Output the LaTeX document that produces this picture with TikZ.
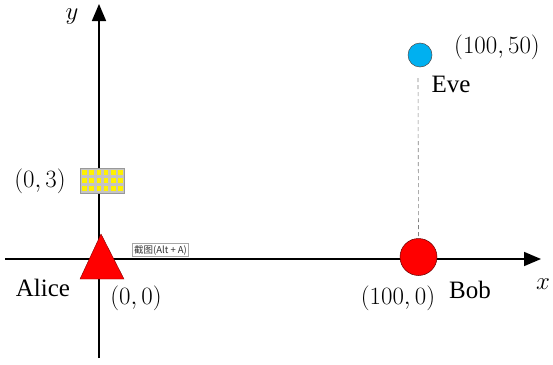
\documentclass[tikz,border=0pt]{standalone}
\usepackage{fontspec}
\newfontfamily\cjkfont{Noto Sans CJK SC}
\newfontfamily\namefont{Liberation Serif}
\usetikzlibrary{arrows.meta}
\definecolor{evecol}{HTML}{00B0F0}
\definecolor{gridgray}{HTML}{C4C4C4}
\tikzset{
  axis/.style={line width=1.6pt,-{Triangle[length=17pt,width=14pt]}},
  lbl/.style={inner sep=0pt,font=\fontsize{23}{28}\selectfont},
  namelbl/.style={inner sep=0pt,font=\namefont\fontsize{25}{30}\selectfont},
  party/.style={circle,draw=red!40!black,line width=0.5pt,inner sep=0pt},
  dot/.style={fill=yellow,inner sep=0pt,minimum size=4.5pt},
  tip/.style={draw=gray!70,fill=white,line width=0.5pt,inner sep=1.5pt,font=\cjkfont\fontsize{9.5}{10}\selectfont,text=gray!40!black}
}
\begin{document}
\begin{tikzpicture}[x=1pt,y=-1pt]
\useasboundingbox (0,0) rectangle (553,364);
% axes
\coordinate (xs) at (5,259);
\coordinate (xe) at (541,259);
\coordinate (ys) at (99,358);
\coordinate (ye) at (99,4);
\draw[axis] (xs) -- (xe);
\draw[axis] (ys) -- (ye);
\node[lbl] (xl) at (543,284) {$x$};
\node[lbl] (yl) at (72,17) {$y$};
% parties
\coordinate (dtop) at (418,78);
\node[party,fill=red,minimum size=37pt] (bob) at (418.5,257) {};
\node[party,fill=evecol,draw=black!70,minimum size=24pt] (eve) at (420,55) {};
\draw[gray,dashed,dash pattern=on 4pt off 3pt,line width=0.6pt] (dtop) -- (bob.north);
% Alice triangle
\coordinate (ta) at (101,234);
\coordinate (tb) at (80,279);
\coordinate (tc) at (124,279);
\draw[fill=red,draw=red!50!black,line width=0.4pt] (ta) -- (tb) -- (tc) -- cycle;
% grid
\node[draw=gray!80,fill=gridgray,minimum width=44pt,minimum height=25pt,inner sep=0pt] (grid) at (102,180.5) {};
\foreach \i in {0,...,5}{
  \foreach \j in {0,1,2}{
    \node[dot] (d\i\j) at ({84.5+7.2*\i},{172.7+8*\j}) {};
  }
}
% tooltip
\node[tip] (tt) at (160.5,250) {截图(Alt + A)};
% labels
\node[lbl] (l003) at (40,181) {$(0,3)$};
\node[namelbl] (alice) at (43,288) {Alice};
\node[lbl] (l000) at (136,298) {$(0,0)$};
\node[lbl] (l100) at (398,298) {$(100,0)$};
\node[namelbl] (boblbl) at (470,290) {Bob};
\node[lbl] (l10050) at (497,47) {$(100,50)$};
\node[namelbl] (evelbl) at (451,84) {Eve};
\end{tikzpicture}
\end{document}
